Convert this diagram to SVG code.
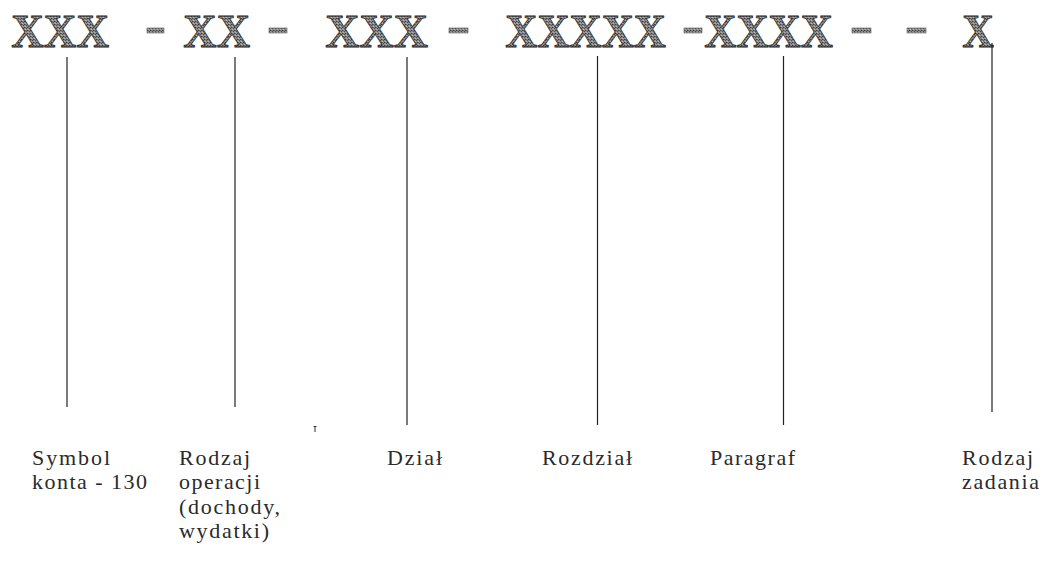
<svg xmlns="http://www.w3.org/2000/svg" width="1046" height="567" viewBox="0 0 1046 567">
  <defs>
    <!-- grainy grey fill used for the code placeholders and separators -->
    <pattern id="grain" width="3" height="3" patternUnits="userSpaceOnUse">
      <rect width="3" height="3" fill="#8e8e8e"/>
      <rect x="0" y="0" width="1" height="1" fill="#3c3c3c"/>
      <rect x="2" y="1" width="1" height="1" fill="#4e4e4e"/>
      <rect x="1" y="2" width="1" height="1" fill="#b4b4b4"/>
      <rect x="1" y="0" width="1" height="1" fill="#6a6a6a"/>
    </pattern>
    <style>
      .code { font-family: "Liberation Serif", "Times New Roman", serif; font-weight: bold; font-size: 46px; fill: url(#grain); stroke: #232323; stroke-width: 0.8; }
      .sep { fill: url(#grain); stroke: #5a5a5a; stroke-width: 0.6; }
      .label { font-family: "Liberation Serif", "Times New Roman", serif; font-size: 22px; fill: #2a2a2a; }
      .conn line { stroke: #222; stroke-width: 1.2; }
    </style>
  </defs>
  <rect width="1046" height="567" fill="#ffffff"/>

  <!-- account number pattern -->
  <g id="code-symbol"><text class="code" x="11.3" y="47" textLength="97.7" lengthAdjust="spacingAndGlyphs">XXX</text></g>
  <g id="code-operacja"><text class="code" x="183.3" y="47" textLength="66.7" lengthAdjust="spacingAndGlyphs">XX</text></g>
  <g id="code-dzial"><text class="code" x="325.3" y="47" textLength="102.8" lengthAdjust="spacingAndGlyphs">XXX</text></g>
  <g id="code-rozdzial"><text class="code" x="505.3" y="47" textLength="160.6" lengthAdjust="spacingAndGlyphs">XXXXX</text></g>
  <g id="code-paragraf"><text class="code" x="704.3" y="47" textLength="128.6" lengthAdjust="spacingAndGlyphs">XXXX</text></g>
  <g id="code-zadanie"><text class="code" x="962.3" y="47" textLength="31.6" lengthAdjust="spacingAndGlyphs">X</text></g>

  <!-- separators between the parts -->
  <g id="separators">
    <rect class="sep" x="147" y="28" width="17" height="5"/>
    <rect class="sep" x="269" y="28" width="18" height="5"/>
    <rect class="sep" x="449" y="28" width="19" height="5"/>
    <rect class="sep" x="684" y="28" width="18" height="5"/>
    <rect class="sep" x="852" y="28" width="19" height="5"/>
    <rect class="sep" x="907" y="28" width="19" height="5"/>
  </g>

  <!-- leader lines from each part down to its description -->
  <g id="connectors" class="conn">
    <line x1="67" y1="57" x2="67" y2="407"/>
    <line x1="235" y1="57" x2="235" y2="407"/>
    <line x1="407" y1="57" x2="407" y2="425"/>
    <line x1="597.5" y1="56" x2="597.5" y2="425"/>
    <line x1="783.5" y1="56" x2="783.5" y2="425"/>
    <line x1="992" y1="43" x2="992" y2="412"/>
  </g>

  <!-- small stray tick -->
  <path d="M313.5 426.5 h3 M315 426.5 v5.5" stroke="#333" stroke-width="1" fill="none"/>

  <!-- descriptions -->
  <g id="label-symbol">
    <text class="label" x="32" y="465" textLength="78" lengthAdjust="spacing">Symbol</text>
    <text class="label" x="32" y="489" textLength="115" lengthAdjust="spacing">konta - 130</text>
  </g>
  <g id="label-operacja">
    <text class="label" x="179" y="465" textLength="71" lengthAdjust="spacing">Rodzaj</text>
    <text class="label" x="179" y="489" textLength="81" lengthAdjust="spacing">operacji</text>
    <text class="label" x="179" y="514" textLength="101" lengthAdjust="spacing">(dochody,</text>
    <text class="label" x="179" y="538" textLength="90" lengthAdjust="spacing">wydatki)</text>
  </g>
  <g id="label-dzial">
    <text class="label" x="387" y="465" textLength="55" lengthAdjust="spacing">Dział</text>
  </g>
  <g id="label-rozdzial">
    <text class="label" x="542" y="465" textLength="90" lengthAdjust="spacing">Rozdział</text>
  </g>
  <g id="label-paragraf">
    <text class="label" x="710" y="465" textLength="85" lengthAdjust="spacing">Paragraf</text>
  </g>
  <g id="label-zadanie">
    <text class="label" x="962" y="465" textLength="71" lengthAdjust="spacing">Rodzaj</text>
    <text class="label" x="962" y="489" textLength="77" lengthAdjust="spacing">zadania</text>
  </g>
</svg>
